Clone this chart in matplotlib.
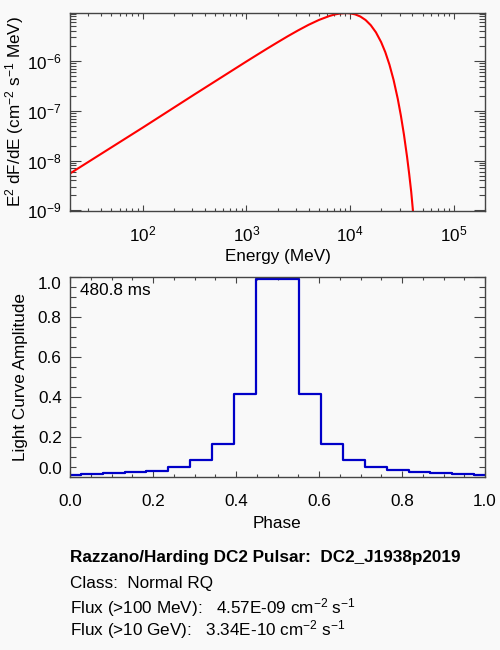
import numpy as np
import matplotlib
matplotlib.use("Agg")
import matplotlib.pyplot as plt
from matplotlib.ticker import LogLocator, MultipleLocator, NullFormatter, FuncFormatter

# ---- spectrum (E in MeV, E^2 dF/dE) ----
energy_mev = [20, 100, 316, 1000, 1259, 1585, 1995, 2512, 3162, 3981, 5012,
              6310, 7079, 7943, 9120, 10000, 11220, 12590, 14130, 15850,
              17780, 19950, 21880, 23990, 26300, 28840, 30900, 33110, 35480,
              37150, 38900, 40740, 41690]
e2dfde = [5.50e-9, 4.57e-8, 2.13e-7, 9.77e-7, 1.318e-6, 1.774e-6, 2.371e-6,
          3.155e-6, 4.140e-6, 5.346e-6, 6.699e-6, 8.035e-6, 8.610e-6,
          9.016e-6, 9.226e-6, 9.120e-6, 8.670e-6, 7.852e-6, 6.683e-6,
          5.260e-6, 3.776e-6, 2.404e-6, 1.510e-6, 8.47e-7, 4.17e-7, 1.75e-7,
          8.07e-8, 3.31e-8, 1.18e-8, 5.45e-9, 2.34e-9, 8.22e-10, 5.57e-10]

# ---- light curve (20 phase bins) ----
phase = np.linspace(0.0, 1.0, 20)
amplitude = [0.012, 0.013, 0.018, 0.023, 0.032, 0.052, 0.087, 0.165, 0.415, 0.99,
             0.99, 0.415, 0.165, 0.087, 0.052, 0.033, 0.023, 0.018, 0.013, 0.012]

period_label = "480.8 ms"
info_lines = [
    ("Razzano/Harding DC2 Pulsar:  DC2_J1938p2019", "bold"),
    ("Class:  Normal RQ", "normal"),
    ("Flux (>100 MeV):   4.57E-09 cm$^{-2}$ s$^{-1}$", "normal"),
    ("Flux (>10 GeV):   3.34E-10 cm$^{-2}$ s$^{-1}$", "normal"),
]

plt.rcParams['font.family'] = ['Liberation Sans', 'DejaVu Sans']
plt.rcParams['mathtext.fontset'] = 'custom'
plt.rcParams['mathtext.rm'] = 'Liberation Sans'
plt.rcParams['mathtext.it'] = 'Liberation Sans:italic'
plt.rcParams['mathtext.bf'] = 'Liberation Sans:bold'
plt.rcParams['mathtext.default'] = 'regular'

FS = 12.3
bg = '#f9f9f9'
frame = '#444444'

fig = plt.figure(figsize=(5, 6.5), dpi=100, facecolor=bg)


def style_axes(ax, xpad):
    ax.set_facecolor(bg)
    for s in ax.spines.values():
        s.set_color(frame)
        s.set_linewidth(1.0)
    ax.tick_params(which='both', direction='in', top=True, right=True,
                   colors=frame, labelcolor='black', labelsize=FS, width=0.8)
    ax.tick_params(axis='x', which='major', length=4, pad=xpad)
    ax.tick_params(axis='x', which='minor', length=2)
    ax.tick_params(axis='y', which='major', length=8, pad=6)
    ax.tick_params(axis='y', which='minor', length=4)


# ============ spectrum ============ #
ax1 = fig.add_axes([0.14, 0.6754, 0.83, 0.3046])
ax1.plot(energy_mev, e2dfde, color='#ff0000', lw=1.5)
ax1.set_xscale('log')
ax1.set_yscale('log')
ax1.set_xlim(20, 2.0e5)
ax1.set_ylim(0.97e-9, 9.25e-6)
ax1.xaxis.set_major_locator(LogLocator(base=10, numticks=10))
ax1.xaxis.set_minor_locator(LogLocator(base=10, subs=np.arange(2, 10), numticks=20))
ax1.yaxis.set_major_locator(LogLocator(base=10, numticks=10))
ax1.yaxis.set_minor_locator(LogLocator(base=10, subs=np.arange(2, 10), numticks=20))
ax1.xaxis.set_minor_formatter(NullFormatter())
ax1.yaxis.set_minor_formatter(NullFormatter())
powfmt = FuncFormatter(lambda v, p: "10$^{%d}$" % int(round(np.log10(v))))
ax1.xaxis.set_major_formatter(powfmt)
ax1.yaxis.set_major_formatter(powfmt)
style_axes(ax1, 10)
ax1.set_xlabel("Energy (MeV)", fontsize=FS, labelpad=3)
ax1.set_ylabel("E$^{2}$ dF/dE (cm$^{-2}$ s$^{-1}$ MeV)", fontsize=FS)
ax1.yaxis.set_label_coords(-0.106, 0.5)

# ============ light curve ============ #
ax2 = fig.add_axes([0.14, 0.2662, 0.83, 0.3077])
ax2.step(phase, amplitude, where='mid', color='#0000c8', lw=1.6)
ax2.set_xlim(0, 1)
ax2.set_ylim(0, 1)
ax2.xaxis.set_major_locator(MultipleLocator(0.2))
ax2.xaxis.set_minor_locator(MultipleLocator(0.05))
ax2.yaxis.set_major_locator(MultipleLocator(0.2))
ax2.yaxis.set_minor_locator(MultipleLocator(0.05))
ax2.xaxis.set_major_formatter(FuncFormatter(lambda v, p: "%.1f" % v))
ax2.yaxis.set_major_formatter(FuncFormatter(lambda v, p: "%.1f" % v))
style_axes(ax2, 12)
ax2.set_xlabel("Phase", fontsize=FS, labelpad=5)
ax2.set_ylabel("Light Curve Amplitude", fontsize=FS)
ax2.yaxis.set_label_coords(-0.10, 0.5)
ax2.text(0.025, 0.93, period_label, transform=ax2.transAxes, fontsize=FS,
         ha='left', va='center')

# keep the end labels inside the frame, like the original
fig.canvas.draw()
for t in ax2.yaxis.get_major_ticks():
    if abs(t.get_loc() - 1.0) < 1e-6:
        t.label1.set_verticalalignment('top')
    elif abs(t.get_loc()) < 1e-6:
        t.label1.set_verticalalignment('bottom')

# ============ info text ============ #
baselines = [0.1354, 0.0954, 0.0569, 0.0231]
for (txt, wt), yb in zip(info_lines, baselines):
    fig.text(0.14, yb, txt, fontsize=FS, fontweight=wt, ha='left', va='baseline')

fig.savefig("out.png", dpi=100, facecolor=bg)
